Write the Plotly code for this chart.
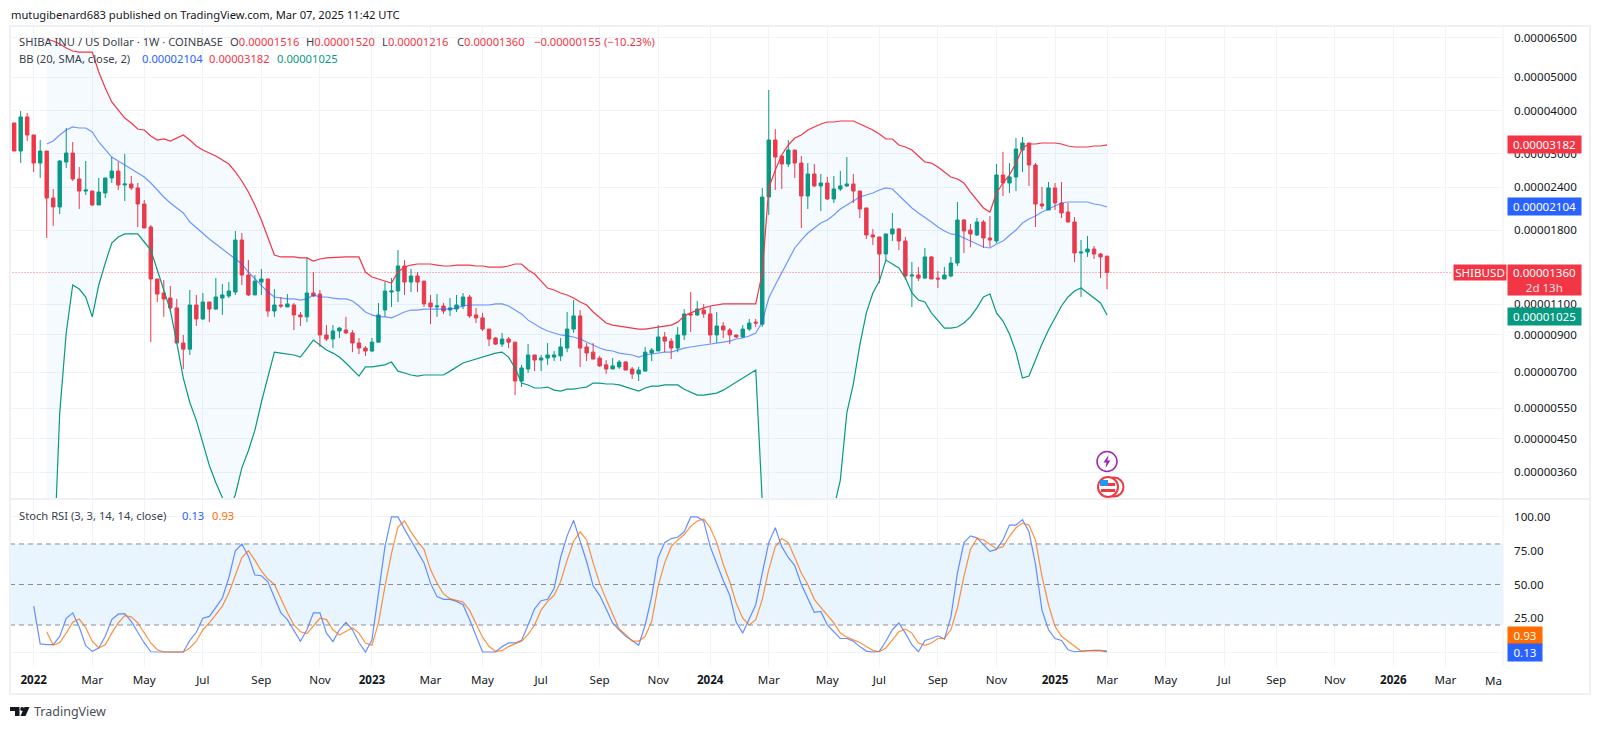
import math
import pandas as pd
import plotly.graph_objects as go

# All prices are in units of 0.00000001 USD
UNIT = 1e-8
first_week = "2021-12-13"

opens = [3681,3054,3831,3398,2819,3054,2233,2104,2838,3014,
2535,2339,2339,2132,2309,2552,2673,2436,2452,2388,
2146,1841,1302,1186,1147,1074,850,816,1095,998,
1117,1066,1147,1163,1194,1688,1337,1171,1276,1302,
1052,1095,1081,1095,1025,1012,1186,1178,897,873,
921,927,909,850,822,806,855,1059,1194,1202,
1420,1276,1328,1284,1110,1081,1088,1059,1066,1088,
1155,1025,1005,933,879,844,873,855,660,715,
785,759,769,774,780,822,933,1018,828,800,
769,735,715,725,749,715,692,705,795,806,
885,861,822,897,1032,1025,1059,1032,897,952,
927,897,885,933,977,964,2248,3286,2954,2801,
3074,2819,2263,2621,2420,2468,2219,2372,2420,2452,
2339,2090,1746,1723,1538,1758,1817,1677,1328,1337,
1310,1508,1310,1302,1328,1448,1929,1804,1746,1903,
1711,1677,2603,2468,2569,3074,3221,2782,2146,2061,
2388,2160,2034,1903,1548,1558,1590,1538,1516]

closes = [3054,3831,3398,2819,3054,2233,2104,2857,3014,2535,
2339,2355,2132,2324,2552,2673,2436,2452,2388,2146,
1829,1302,1178,1140,1074,850,816,1095,998,1117,
1066,1155,1171,1202,1688,1337,1171,1284,1302,1052,
1095,1088,1103,1025,1012,1186,1163,897,873,921,
939,909,850,822,806,855,1025,1202,1202,1420,
1276,1328,1276,1103,1081,1088,1052,1074,1095,1155,
1018,1005,933,873,844,873,855,660,720,785,
759,769,785,785,828,933,1018,822,795,764,
730,715,730,749,710,692,710,800,811,885,
861,822,897,1032,1025,1066,1032,897,952,927,
897,885,933,971,971,2248,3286,2934,2801,3074,
2819,2263,2621,2420,2468,2219,2372,2420,2452,2339,
2076,1746,1723,1538,1758,1817,1677,1328,1337,1310,
1508,1302,1302,1337,1448,1929,1793,1758,1903,1711,
1688,2603,2468,2569,3095,3221,2782,2146,2118,2388,
2160,2021,1903,1548,1558,1590,1538,1508,1360]

highs = [3681,3986,3934,3398,3286,3054,2372,2876,3560,3243,
2745,2857,2339,2552,2552,2934,2838,2994,2586,2468,
2204,1866,1302,1293,1243,1140,897,1210,1171,1186,
1117,1310,1259,1276,1793,1769,1477,1337,1392,1302,
1218,1155,1178,1110,1045,1508,1364,1210,958,958,
946,1012,927,879,833,879,1110,1276,1310,1579,
1477,1392,1364,1284,1171,1178,1110,1147,1171,1186,
1171,1074,1039,933,885,909,885,855,735,844,
785,785,850,806,879,1045,1132,1059,850,850,
780,759,769,759,754,725,725,828,822,958,
915,879,946,1066,1194,1125,1103,1088,1045,977,
939,897,958,998,998,2388,4585,3537,2954,3286,
3074,2954,2819,2801,2621,2569,2586,2673,2934,2621,
2339,2090,1817,1723,1758,2021,1829,1723,1458,1410,
1601,1518,1373,1410,1508,2175,1942,1878,1955,1929,
1981,2801,3034,2819,3331,3353,3221,2819,2404,2485,
2468,2485,2160,1968,1688,1734,1622,1548,1520]

lows = [3054,2819,3264,2656,2552,1711,1854,2007,2727,2501,
2076,2278,2118,2132,2233,2468,2355,2189,2355,1841,
1829,855,1117,1012,1045,850,715,785,952,990,
977,1059,1025,1147,1171,1251,1163,1171,1171,1012,
1012,1074,1081,927,952,977,1155,828,861,822,
879,903,800,790,780,800,855,1012,1081,1117,
1171,1194,1194,1081,964,1012,1032,1018,1045,1066,
1005,971,921,833,839,828,822,601,634,696,
705,705,735,754,754,800,909,725,754,764,
725,692,715,715,710,669,660,705,754,806,
800,764,800,867,915,1018,1005,850,850,879,
844,879,879,921,946,946,1994,2355,2372,2745,
2552,1829,2076,2404,2047,2204,2160,2339,2404,2160,
1955,1700,1633,1267,1477,1677,1579,1293,1081,1284,
1302,1302,1226,1302,1319,1420,1548,1611,1734,1601,
1611,1655,2263,2309,2339,2656,2420,1841,2076,2061,
2061,1955,1903,1458,1155,1508,1488,1310,1216]

# Bollinger bands start at the sixth weekly bar
bb_upper = [6440,6355,6230,6065,5945,5905,5905,5905,5170,4647,4233,4013,3805,3681,3537,
3513,3376,3286,3309,3264,3331,3398,3286,3158,3074,3014,2954,2876,2801,2656,
2501,2324,2132,1929,1723,1528,1508,1508,1508,1498,1498,1468,1488,1498,1503,
1508,1508,1508,1508,1364,1319,1302,1284,1267,1364,1410,1429,1439,1439,1439,
1429,1420,1420,1429,1429,1429,1420,1420,1410,1410,1410,1420,1439,1439,1382,
1346,1284,1226,1210,1186,1171,1147,1117,1095,1045,1005,971,958,952,946,
939,933,933,939,946,952,958,977,1018,1039,1059,1074,1088,1095,1103,
1103,1103,1103,1103,1103,1355,2388,2691,2974,3179,3331,3398,3513,3584,3656,
3705,3705,3730,3730,3730,3656,3584,3513,3421,3309,3309,3179,3137,3074,2954,
2838,2819,2745,2656,2569,2535,2468,2324,2204,2090,2034,2309,2468,2603,2819,
3116,3200,3200,3221,3221,3221,3200,3158,3137,3137,3137,3158,3158,3182]

bb_basis = [3200,3264,3398,3513,3584,3560,3560,3467,3243,3074,2934,2857,2782,2709,2638,
2569,2468,2355,2248,2160,2090,2021,1903,1829,1758,1700,1644,1590,1538,1488,
1439,1364,1302,1251,1194,1155,1147,1140,1140,1132,1140,1171,1155,1155,1147,
1140,1140,1125,1088,1045,1025,1012,1012,1005,1025,1045,1059,1059,1066,1066,
1066,1066,1066,1074,1088,1095,1095,1095,1095,1103,1103,1088,1059,1032,990,
964,939,921,909,897,891,885,873,855,839,822,811,806,795,790,
785,774,785,790,795,800,800,811,822,828,833,839,844,850,855,
861,873,879,891,909,977,1147,1251,1355,1477,1601,1688,1769,1829,1891,
1929,1994,2076,2132,2189,2248,2278,2309,2355,2388,2372,2278,2175,2090,2021,
1955,1903,1841,1793,1758,1746,1711,1677,1644,1611,1601,1644,1677,1734,1804,
1891,1942,1981,2034,2076,2118,2160,2175,2175,2175,2175,2146,2132,2104]

bb_lower = [60,173,533,909,1251,1218,1155,1012,1251,1448,1655,1723,1758,1758,1758,
1666,1579,1382,1210,1059,850,673,572,508,437,376,335,304,275,310,
370,415,475,573,673,800,795,790,785,774,822,867,839,811,795,
774,744,710,682,725,725,730,735,749,705,696,687,682,687,687,
687,687,705,725,744,754,764,774,785,795,800,774,720,651,643,
630,630,634,621,617,625,625,630,634,651,651,647,647,643,634,
625,617,630,638,638,643,643,643,625,613,601,601,605,609,621,
638,656,673,692,710,295,60,60,60,60,60,60,60,60,60,
60,283,341,534,648,840,1039,1186,1284,1477,1439,1401,1310,1186,1132,
1117,1039,984,939,939,946,971,1012,1074,1155,1178,1039,984,903,800,
673,682,759,844,927,1005,1088,1155,1202,1226,1186,1147,1110,1025]

# Stoch RSI: %K starts at the fourth bar, %D at the sixth
stoch_k = [34,6,5.4,5.4,11.6,25,29,18.5,4.7,0.5,3,11.6,24,28,28.4,22.7,14.6,6.7,0.2,0,
0,0,0,0,8.6,14.6,25,26.4,33,40,55,75,80,71,57,56.5,52,41,29,24,
16.5,8,16.5,29,29,14,7.7,16.5,22,16.5,7,0,9,44,78,100,100,91,83,74.5,
66,51,41,39,39,37.5,35,24,11.6,0,0,0,4,6.7,6.7,8.6,20,32,38,39,
47,70,86,97.5,82,67,49,42,32,21.5,16.5,11.6,8.6,5,20,41,70,81,84,85,
89,100,100,97,78,65,53,42,22,14,25,35,58.5,81,92,78,70,64,50,39,
29.4,30,20,15,10,10,8,4,0.7,0,0.5,8,16.5,21.5,14,5.4,0.2,8.6,10,12,
9.6,26,58.5,81,86,84.5,79.5,74.5,76,83,94,94,98,89,65,31,16.5,10,8.6,1.7,
0.2,0.5,1.2,1.2,1,0.13]

stoch_d = [15,5,7,14,22,24.4,18,8,3,5.4,14,21.5,27,26,21.5,14,6.7,1.7,0,0,
0,0,3,8,16.5,21.5,27.7,34,43.7,57,70,75,68,60,54,50,39,29,20,15,
13.6,19,25,24,16.5,12.6,15,18,14,6.7,5,21.5,48.6,73,92.6,97,89,82,76,61,
51,43,39.5,38,37,31,21.5,11,4,0.5,1,4,6,8,13,20,31,37.5,42,52,
68,82,89,83,66,51,39,27.7,17,13,8,8,11.6,22.7,49,66,78,83,87,93,
97,98.5,92,81,65,52,36,25,20,24,39,61,78,84,81,70,58.5,50,39,33,
27,21.5,14,11,9,7,4,1.2,0.2,3,9,15,17,14,6.7,5,6.7,10,10,16.5,
32.6,56,76,84,83,79.5,76.5,78,85.7,92,95.5,94,83,56,35,19,11.6,8,4,0.7,
1,1.2,1.2,0.93]

price_ticks = [6500,5000,4000,3000,2400,1800,1100,900,700,550,450,360]
stoch_ticks = [0,25,50,75,100]
stoch_tick_text = ["","25.00","50.00","75.00","100.00"]
stoch_levels = [80,50,20]
time_ticks = ["2022-01-03","2022-03-07","2022-05-02","2022-07-04","2022-09-05","2022-11-07",
"2023-01-02","2023-03-06","2023-05-01","2023-07-03","2023-09-04","2023-11-06",
"2024-01-01","2024-03-04","2024-05-06","2024-07-01","2024-09-02","2024-11-04",
"2025-01-06","2025-03-03","2025-05-05","2025-07-07","2025-09-01","2025-11-03",
"2026-01-05","2026-03-02"]
time_labels = ["<b>2022</b>","Mar","May","Jul","Sep","Nov","<b>2023</b>","Mar","May","Jul","Sep","Nov",
"<b>2024</b>","Mar","May","Jul","Sep","Nov","<b>2025</b>","Mar","May","Jul","Sep","Nov","<b>2026</b>","Mar"]
last_price = 1360
last_upper, last_basis, last_lower = 3182, 2104, 1025

W, H = 1600, 729
FONT = "Noto Sans"
DARK = "#131722"
LEG = "#3a3f4b"
RED, GREEN, BLUE, ORANGE = "#F23645", "#089981", "#2962FF", "#FF6D00"
GRID = "#F0F3FA"
LEG_SIZE = 11.2
AX_SIZE = 11.6


def pts(v):
    return [a * UNIT for a in v]


def px(x):
    return x / W


def py(y):
    return 1 - y / H


weeks = pd.date_range(first_week, periods=len(opens), freq="7D")
bb_weeks = weeks[5:]
k_weeks = weeks[3:]
d_weeks = weeks[5:]

fig = go.Figure()
fig.add_trace(go.Scatter(x=bb_weeks, y=pts(bb_upper), mode="lines", line=dict(color=RED, width=1.2), yaxis="y", opacity=0.5))
fig.add_trace(go.Scatter(x=bb_weeks, y=pts(bb_lower), mode="lines", line=dict(color=GREEN, width=1.2), yaxis="y", opacity=0.55,
                         fill="tonexty", fillcolor="rgba(33,150,243,0.05)"))
fig.add_trace(go.Scatter(x=bb_weeks, y=pts(bb_basis), mode="lines", line=dict(color=BLUE, width=1.2), yaxis="y", opacity=0.65))
fig.add_trace(go.Scatter(x=["2021-12-08", "2026-03-10"], y=pts([last_price, last_price]), mode="lines",
                         line=dict(color=RED, width=1, dash="1px,2px"), opacity=0.7, yaxis="y"))
fig.add_trace(go.Candlestick(x=weeks, open=pts(opens), high=pts(highs), low=pts(lows), close=pts(closes), yaxis="y",
                             whiskerwidth=0,
                             increasing=dict(line=dict(color=GREEN, width=1), fillcolor=GREEN),
                             decreasing=dict(line=dict(color=RED, width=1), fillcolor=RED)))
fig.add_trace(go.Scatter(x=k_weeks, y=stoch_k, mode="lines", line=dict(color=BLUE, width=1.2), yaxis="y2", opacity=0.7))
fig.add_trace(go.Scatter(x=d_weeks, y=stoch_d, mode="lines", line=dict(color=ORANGE, width=1.2), yaxis="y2", opacity=0.75))

shapes = []
# Stoch band and levels
shapes.append(dict(type="rect", xref="x domain", x0=0, x1=1, yref="y2", y0=20, y1=80, fillcolor="rgba(33,150,243,0.1)", line=dict(width=0), layer="below"))
for lv in stoch_levels:
    shapes.append(dict(type="line", xref="x domain", x0=0, x1=1, yref="y2", y0=lv, y1=lv, line=dict(color="#8A8E99", width=1, dash="5px,4px")))
# Frame
frame = dict(color="#EEF0F5", width=2)
shapes.append(dict(type="rect", xref="paper", yref="paper", x0=px(10), x1=px(1590), y0=py(694), y1=py(26), line=frame))
shapes.append(dict(type="line", xref="paper", yref="paper", x0=px(10), x1=px(1590), y0=py(499), y1=py(499), line=frame))
shapes.append(dict(type="line", xref="paper", yref="paper", x0=px(1503), x1=px(1503), y0=py(667), y1=py(26), line=dict(color="#F0F1F5", width=1)))

def circle(cx, cy, r, fill, line, width=1.5):
    return dict(type="circle", xref="paper", yref="paper", x0=px(cx - r), x1=px(cx + r), y0=py(cy + r), y1=py(cy - r),
                fillcolor=fill, line=dict(color=line, width=width))

def poly(points, fill):
    d = "M " + " L ".join(f"{px(a):.5f},{py(b):.5f}" for a, b in points) + " Z"
    return dict(type="path", xref="paper", yref="paper", path=d, fillcolor=fill, line=dict(width=0))

# Event icons
shapes.append(circle(1107, 461.5, 10, "white", "#9C27B0"))
shapes.append(poly([(1108.5, 455), (1103.5, 462.5), (1106.5, 462.5), (1105.5, 468), (1110.5, 460.5), (1107.5, 460.5)], "#9C27B0"))
shapes.append(circle(1114, 487, 9.5, "white", RED, 2))
shapes.append(circle(1108, 487, 10, "white", RED, 2))
shapes.append(poly([(1100, 480), (1108, 480), (1108, 486), (1100, 486)], "#2196F3"))
shapes.append(poly([(1108, 483), (1115, 483), (1115, 486), (1108, 486)], RED))
shapes.append(poly([(1101, 489), (1115, 489), (1115, 492), (1101, 492)], RED))
# Logo
shapes.append(poly([(10, 707), (19.5, 707), (19.5, 716), (15, 716), (15, 711), (10, 711)], "#131722"))
shapes.append(circle(22.2, 709, 2, "#131722", "#131722", 0))
shapes.append(poly([(24.5, 707), (29.5, 707), (25.5, 716), (20.5, 716)], "#131722"))

ann = []


def text(x, y, s, color=DARK, size=LEG_SIZE, anchor="left"):
    ann.append(dict(xref="paper", yref="paper", x=px(x), y=py(y), text=s, showarrow=False, xanchor=anchor, yanchor="middle",
                    font=dict(family=FONT, size=size, color=color), align="left", borderpad=0))


def tag(x, y, w, h, s, color, yref="paper"):
    ann.append(dict(xref="paper", yref=yref, x=px(x), y=y, text=s, showarrow=False, xanchor="left", yanchor="middle",
                    width=w, height=h, bgcolor=color, align="center", valign="middle", borderpad=0,
                    font=dict(family=FONT, size=AX_SIZE, color="white")))


def fmt(v):
    return f"{v * UNIT:.8f}"


text(10, 14.5, "mutugibenard683 published on TradingView.com, Mar 07, 2025 11:42 UTC")
text(17.5, 41, "SHIBA INU / US Dollar · 1W · COINBASE", color=LEG)
for x, label, val in [(229, "O", opens[-1]), (305, "H", highs[-1]), (380.5, "L", lows[-1]), (456, "C", closes[-1])]:
    text(x, 41, f"{label}<span style='color:{RED}'>{fmt(val)}</span>", color=LEG)
text(532.5, 41, "−0.00000155 (−10.23%)", color=RED)
text(17.5, 58, "BB (20, SMA, close, 2)", color=LEG)
text(141, 58, fmt(last_basis), color=BLUE)
text(208, 58, fmt(last_upper), color=RED)
text(275.5, 58, fmt(last_lower), color=GREEN)
text(17.5, 515, "Stoch RSI (3, 3, 14, 14, close)", color=LEG)
text(181, 515, f"{stoch_k[-1]:.2f}", color=BLUE)
text(211, 515, f"{stoch_d[-1]:.2f}", color=ORANGE)

tag(1507, math.log10(last_upper * UNIT), 73, 17, fmt(last_upper), RED, "y")
tag(1507, math.log10(last_basis * UNIT), 73, 17, fmt(last_basis), BLUE, "y")
tag(1507, py(280), 73, 30, f"{fmt(last_price)}<br><span style='font-size:11.5px;color:#fde0e3'>2d 13h</span>", RED)
tag(1507, py(316), 73, 17, fmt(last_lower), GREEN)
tag(1453, math.log10(last_price * UNIT), 52, 15, "SHIBUSD", RED, "y")
tag(1507, py(635.5), 34, 17, f"{stoch_d[-1]:.2f}", ORANGE)
tag(1507, py(652.5), 34, 17, f"{stoch_k[-1]:.2f}", BLUE)
text(1503, 680.5, "Ma", size=AX_SIZE, anchor="right")
text(33, 711.5, "TradingView", color="#4a4e59", size=12.5)

axis_font = dict(family=FONT, size=AX_SIZE, color=DARK)
fig.update_layout(
    width=W, height=H, margin=dict(l=0, r=0, t=0, b=0), paper_bgcolor="white", plot_bgcolor="white",
    showlegend=False, hovermode=False, boxgap=0.25,
    font=dict(family=FONT, size=AX_SIZE, color=DARK),
    xaxis=dict(domain=[px(10), px(1503)], anchor="y2", type="date", range=["2021-12-08 12:00", "2026-05-03 02:00"],
               tickmode="array", tickvals=time_ticks, ticktext=time_labels, showgrid=True, gridcolor=GRID, gridwidth=1,
               zeroline=False, showline=False, ticks="", tickfont=axis_font, rangeslider=dict(visible=False),
               tickangle=0, ticklabelstandoff=4),
    yaxis=dict(domain=[py(499), py(27)], anchor="x", side="right", type="log",
               range=[-5.52174, -4.15639], tickmode="array", tickvals=pts(price_ticks), ticktext=[fmt(t) for t in price_ticks],
               showgrid=True, gridcolor=GRID, zeroline=False, showline=False, ticks="", tickfont=axis_font, ticklabelstandoff=10),
    yaxis2=dict(domain=[py(667), py(499)], anchor="x", side="right", range=[-11.1, 113.3],
                tickmode="array", tickvals=stoch_ticks, ticktext=stoch_tick_text, showgrid=True, gridcolor=GRID,
                zeroline=False, showline=False, ticks="", tickfont=axis_font, ticklabelstandoff=10),
    shapes=shapes, annotations=ann,
)

fig.write_html("out.html", config={"displayModeBar": False}, post_script="document.body.style.margin='0';")
